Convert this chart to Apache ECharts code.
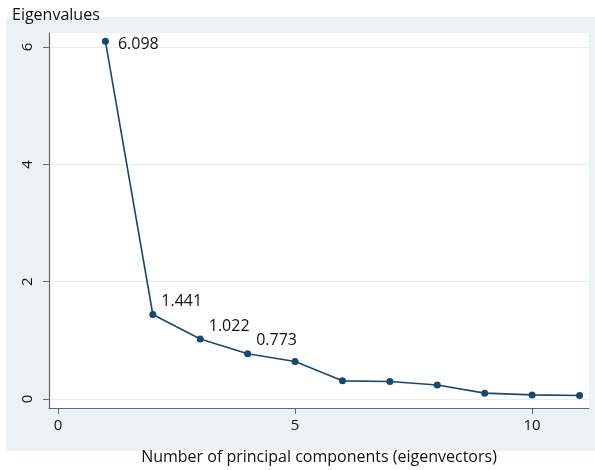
<!DOCTYPE html>
<html>
<head>
<meta charset="utf-8">
<script src="https://cdn.jsdelivr.net/npm/echarts@6/dist/echarts.min.js"></script>
<style>
  html, body { margin: 0; padding: 0; background: #ffffff; }
  #chart { width: 595px; height: 470px; }
</style>
</head>
<body>
<div id="chart"></div>
<script>
// Scree plot: eigenvalue of each principal component
const components = [1, 2, 3, 4, 5, 6, 7, 8, 9, 10, 11];
const eigenvalues = [6.098, 1.441, 1.022, 0.773, 0.64, 0.31, 0.30, 0.24, 0.10, 0.07, 0.06];
// Only the first four components carry a value label
const labelledCount = 4;
const xTicks = [0, 5, 10];
const yTicks = [0, 2, 4, 6];

const FONT = '"Open Sans", "Noto Sans", sans-serif';
const NAVY = '#1a476f';

const points = components.map((c, i) => {
  const item = { value: [c, eigenvalues[i]] };
  if (i < labelledCount) {
    item.label = {
      show: true,
      position: 'right',
      offset: i === 0 ? [4, 3] : [0, -13],
      formatter: eigenvalues[i].toFixed(3)
    };
  }
  return item;
});

const chart = echarts.init(document.getElementById('chart'), null, { renderer: 'canvas' });
chart.setOption({
  backgroundColor: '#ffffff',
  animation: false,
  graphic: [{
    type: 'rect',
    z: -10,
    shape: { x: 6, y: 17, width: 589, height: 434 },
    style: { fill: '#eaf2f3' }
  }],
  title: {
    text: 'Eigenvalues',
    left: 7,
    top: 2,
    textStyle: { fontFamily: FONT, fontSize: 16, fontWeight: 'normal', color: '#111' }
  },
  grid: {
    left: 49, right: 6, top: 33, bottom: 61,
    show: true, backgroundColor: '#ffffff', borderWidth: 0
  },
  xAxis: {
    type: 'value',
    min: -0.19, max: 11.2,
    name: 'Number of principal components (eigenvectors)',
    nameLocation: 'middle',
    nameGap: 41,
    nameTextStyle: { fontFamily: FONT, fontSize: 16, color: '#111' },
    axisLine: { show: true, onZero: false, lineStyle: { color: '#666', width: 1.2 } },
    axisTick: { show: true, length: 6, lineStyle: { color: '#666' },
      customValues: xTicks },
    axisLabel: { fontFamily: FONT, fontSize: 15, color: '#111', margin: 10,
      customValues: xTicks },
    splitLine: { show: false }
  },
  yAxis: {
    type: 'value',
    min: -0.153, max: 6.24,
    axisLine: { show: true, onZero: false, lineStyle: { color: '#666', width: 1.2 } },
    axisTick: { show: true, length: 6, lineStyle: { color: '#666' },
      customValues: yTicks },
    axisLabel: { fontFamily: FONT, fontSize: 15, color: '#111', margin: 14,
      rotate: 90, customValues: yTicks },
    splitLine: { show: true, lineStyle: { color: '#e2eef2', width: 1 },
      customValues: yTicks }
  },
  series: [{
    type: 'line',
    data: points,
    symbol: 'circle',
    symbolSize: 7,
    lineStyle: { color: NAVY, width: 1.6 },
    itemStyle: { color: NAVY },
    label: { fontFamily: FONT, fontSize: 16, color: '#111' }
  }]
});
</script>
</body>
</html>
